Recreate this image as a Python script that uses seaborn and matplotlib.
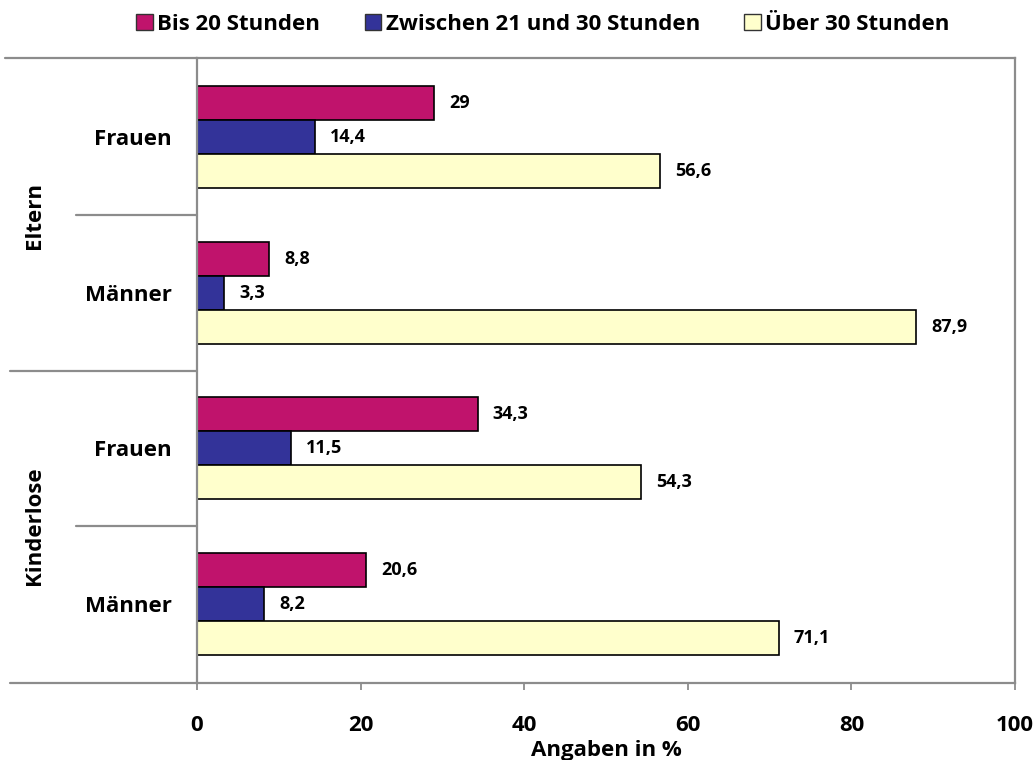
import matplotlib
matplotlib.use('Agg')
import matplotlib.pyplot as plt
import matplotlib.transforms as mtransforms
from matplotlib.patches import Patch
import seaborn as sns
import pandas as pd

# ---- data ----
groups = ['Eltern', 'Eltern', 'Kinderlose', 'Kinderlose']
genders = ['Frauen', 'Männer', 'Frauen', 'Männer']
series = ['Bis 20 Stunden', 'Zwischen 21 und 30 Stunden', 'Über 30 Stunden']
bis20 = [29, 8.8, 34.3, 20.6]
zw21_30 = [14.4, 3.3, 11.5, 8.2]
ueber30 = [56.6, 87.9, 54.3, 71.1]
xticks = [0, 20, 40, 60, 80, 100]
colors = ['#C0136C', '#333399', '#FFFFCC']

keys = [f'{g}|{s}' for g, s in zip(groups, genders)]
rows = []
for name, vals in zip(series, [bis20, zw21_30, ueber30]):
    for k, v in zip(keys, vals):
        rows.append({'cat': k, 'serie': name, 'wert': v})
df = pd.DataFrame(rows)

sns.set_theme(style='white')
plt.rcParams['font.family'] = ['Open Sans', 'DejaVu Sans']
plt.rcParams['font.weight'] = 'bold'
plt.rcParams['text.color'] = 'black'
plt.rcParams['xtick.color'] = 'black'
plt.rcParams['ytick.color'] = 'black'
plt.rcParams['axes.labelcolor'] = 'black'

fig = plt.figure(figsize=(10.36, 7.6), dpi=100)
ax = fig.add_axes([197/1036, 1-683/760, (1015-197)/1036, (683-58)/760])

sns.barplot(data=df, y='cat', x='wert', hue='serie', order=keys, hue_order=series,
            palette=colors, saturation=1, orient='h', width=0.655, gap=0,
            edgecolor='black', linewidth=1.2, ax=ax, legend=False, errorbar=None)

for cont, vals in zip(ax.containers, [bis20, zw21_30, ueber30]):
    ax.bar_label(cont, labels=[f'{v:g}'.replace('.', ',') for v in vals],
                 padding=11, fontsize=13, fontweight='bold', color='black')

ax.set_xlim(0, 100)
ax.set_xticks(xticks)
ax.set_xticklabels([str(t) for t in xticks], fontsize=16, fontweight='bold')
ax.set_yticks(range(len(keys)))
ax.set_yticklabels(genders, fontsize=16, fontweight='bold')
ax.tick_params(axis='y', length=0, pad=18)
ax.tick_params(axis='x', direction='out', length=5, width=1.3, color='#8c8c8c',
               labelcolor='black', pad=18, bottom=True)
ax.set_xlabel('Angaben in %', fontsize=16, fontweight='bold', labelpad=3)
ax.set_ylabel('')

gray = '#8c8c8c'
for sp in ['left', 'right', 'top', 'bottom']:
    ax.spines[sp].set_visible(True)
    ax.spines[sp].set_color(gray)
    ax.spines[sp].set_linewidth(1.6)

# multi-level category axis lines
trans = mtransforms.blended_transform_factory(ax.transAxes, ax.transData)
ax.plot([-(197-76)/818, 0], [0.5, 0.5], color=gray, lw=1.6, transform=trans, clip_on=False)
ax.plot([-(197-76)/818, 0], [2.5, 2.5], color=gray, lw=1.6, transform=trans, clip_on=False)
ax.plot([-(197-10)/818, 0], [1.5, 1.5], color=gray, lw=1.6, transform=trans, clip_on=False)
ax.plot([-(197-5)/818, 0], [1, 1], color=gray, lw=1.6, transform=ax.transAxes, clip_on=False)
ax.plot([-(197-10)/818, 0], [0, 0], color=gray, lw=1.6, transform=ax.transAxes, clip_on=False)

for gname, ypos in [('Eltern', 0.5), ('Kinderlose', 2.5)]:
    ax.text(-(197-35)/818, ypos, gname, rotation=90, ha='center', va='center',
            fontsize=16, fontweight='bold', color='black', transform=trans)

handles = [Patch(facecolor=c, edgecolor='#333333', linewidth=1.0, label=s)
           for c, s in zip(colors, series)]
leg = fig.legend(handles=handles, loc='center', bbox_to_anchor=(543/1036, 1-24/760), ncol=3,
                 frameon=False, prop={'size': 16, 'weight': 'bold'}, handlelength=0.75,
                 handleheight=0.75, handletextpad=0.2, columnspacing=2.0)
for t in leg.get_texts():
    t.set_color('black')

fig.savefig('out.png', dpi=100)
